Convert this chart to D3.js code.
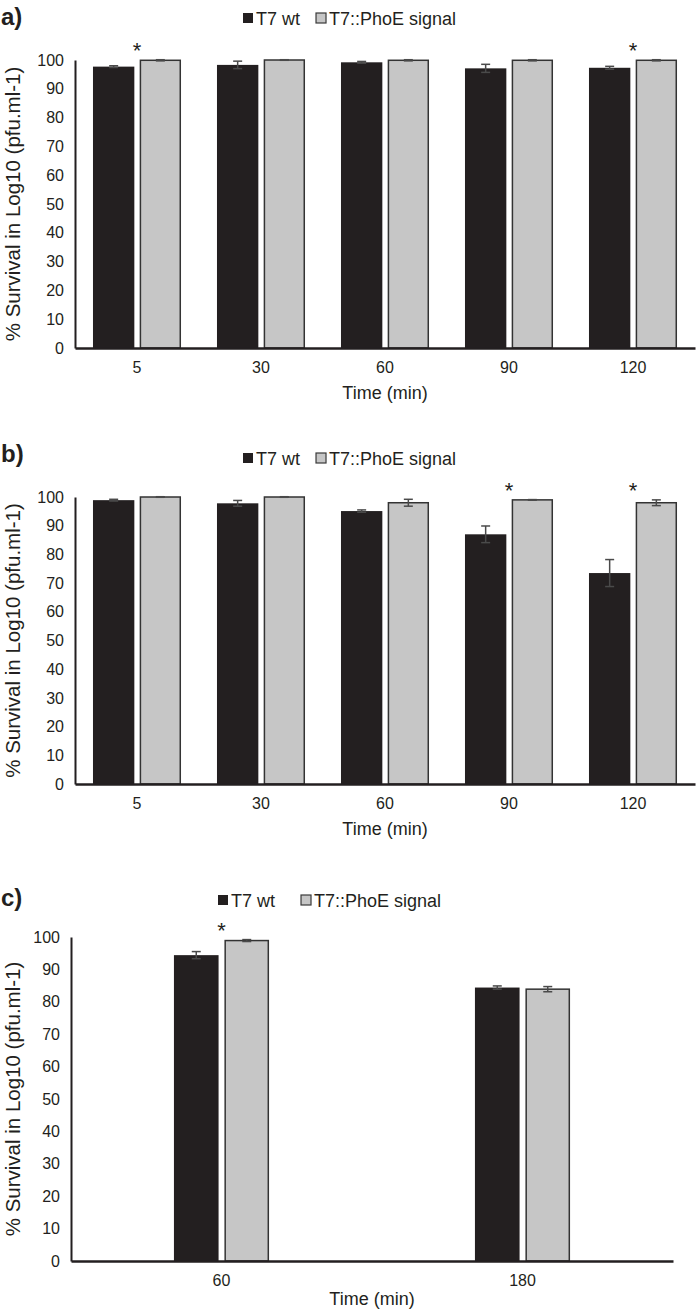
<!DOCTYPE html>
<html>
<head>
<meta charset="utf-8">
<script src="https://cdn.jsdelivr.net/npm/d3@7.9.0/dist/d3.min.js"></script>
<style>
  body { margin: 0; background: #fff; }
  svg { display: block; font-family: "Liberation Sans", Arial, sans-serif; }
</style>
</head>
<body>
<svg id="fig" width="697" height="1313"></svg>
<script>
// series names
const seriesNames = ['T7 wt', 'T7::PhoE signal'];
const yTicks = [0, 10, 20, 30, 40, 50, 60, 70, 80, 90, 100];

// panel a
const timesA = ['5', '30', '60', '90', '120'];
const wtA = [97.7, 98.3, 99.2, 97.1, 97.3];
const wtErrA = [0.3, 1.3, 0.3, 1.4, 0.5];
const phoA = [99.9, 100, 99.9, 99.9, 99.9];
const phoErrA = [0.2, 0.1, 0.2, 0.2, 0.2];
const starsA = ['5', '120'];

// panel b
const timesB = ['5', '30', '60', '90', '120'];
const wtB = [98.9, 97.8, 95.1, 87.0, 73.5];
const wtErrB = [0.3, 1.0, 0.4, 2.9, 4.7];
const phoB = [100, 100, 98.0, 99.0, 98.0];
const phoErrB = [0.1, 0.1, 1.2, 0.1, 1.0];
const starsB = ['90', '120'];

// panel c
const timesC = ['60', '180'];
const wtC = [94.4, 84.4];
const wtErrC = [1.1, 0.5];
const phoC = [98.9, 83.9];
const phoErrC = [0.3, 0.8];
const starsC = ['60'];

const colors = ['#231f20', '#c6c6c6'];
const svg = d3.select('#fig');

function drawPanel(opt) {
  const g = svg.append('g');
  const { left, right, top, bottom } = opt;

  const x = d3.scaleBand()
    .domain(opt.times)
    .range([left, right])
    .paddingInner(opt.pad)
    .paddingOuter(opt.pad / 2);
  const xs = d3.scaleBand()
    .domain([0, 1])
    .range([0, x.bandwidth()])
    .paddingInner(opt.innerPad);
  const y = d3.scaleLinear().domain([0, 100]).range([bottom, top]);

  // panel letter
  g.append('text')
    .attr('x', 1).attr('y', opt.letterY)
    .attr('font-size', 24).attr('font-weight', 'bold')
    .attr('fill', '#231f20')
    .text(opt.letter);

  // legend
  const leg = g.append('g').attr('transform', `translate(${opt.legendX}, ${opt.legendY})`);
  let lx = 0;
  seriesNames.forEach((name, i) => {
    leg.append('rect')
      .attr('x', lx).attr('y', -5).attr('width', 10).attr('height', 10)
      .attr('fill', colors[i])
      .attr('stroke', i ? '#3a3a3a' : 'none').attr('stroke-width', 1.2);
    const t = leg.append('text')
      .attr('x', lx + 13).attr('y', 6.5)
      .attr('font-size', 18).attr('fill', '#231f20')
      .text(name);
    lx += 13 + t.node().getComputedTextLength() + opt.legendGap;
  });

  const rows = opt.times.map((t, i) => ({
    t,
    vals: [
      { s: 0, v: opt.wt[i], e: opt.wtErr[i] },
      { s: 1, v: opt.pho[i], e: opt.phoErr[i] },
    ],
  }));

  const groups = g.selectAll('g.grp')
    .data(rows)
    .join('g')
    .attr('class', 'grp')
    .attr('transform', (d) => `translate(${x(d.t)},0)`);

  groups.selectAll('rect')
    .data((d) => d.vals)
    .join('rect')
    .attr('x', (d) => xs(d.s) + (d.s ? 0.75 : 0))
    .attr('y', (d) => y(d.v))
    .attr('width', (d) => xs.bandwidth() - (d.s ? 1.5 : 0))
    .attr('height', (d) => y(0) - y(d.v))
    .attr('fill', (d) => colors[d.s])
    .attr('stroke', (d) => (d.s ? '#333' : 'none'))
    .attr('stroke-width', 1.5);

  // error bars
  const eb = groups.selectAll('g.err')
    .data((d) => d.vals)
    .join('g')
    .attr('class', 'err')
    .attr('stroke', '#4a4a4a')
    .attr('stroke-width', 1.5);
  eb.append('line')
    .attr('x1', (d) => xs(d.s) + xs.bandwidth() / 2)
    .attr('x2', (d) => xs(d.s) + xs.bandwidth() / 2)
    .attr('y1', (d) => y(d.v + d.e))
    .attr('y2', (d) => y(d.v - d.e));
  [1, -1].forEach((sgn) => {
    eb.append('line')
      .attr('x1', (d) => xs(d.s) + xs.bandwidth() / 2 - 4.5)
      .attr('x2', (d) => xs(d.s) + xs.bandwidth() / 2 + 4.5)
      .attr('y1', (d) => y(d.v + sgn * d.e))
      .attr('y2', (d) => y(d.v + sgn * d.e));
  });

  // significance stars
  g.selectAll('text.star')
    .data(opt.stars)
    .join('text')
    .attr('class', 'star')
    .attr('x', (d) => x(d) + x.bandwidth() / 2)
    .attr('y', (d) => {
      const i = opt.times.indexOf(d);
      return y(Math.max(opt.wt[i] + opt.wtErr[i], opt.pho[i] + opt.phoErr[i])) - 2;
    })
    .attr('text-anchor', 'middle')
    .attr('font-size', 22)
    .attr('fill', '#231f20')
    .text('*');

  // y axis
  const yAxis = g.append('g')
    .attr('transform', `translate(${left},0)`)
    .call(d3.axisLeft(y).tickValues(yTicks).tickSize(0).tickPadding(opt.yPad));
  yAxis.select('.domain').attr('stroke', '#231f20').attr('stroke-width', 2);
  yAxis.selectAll('text').attr('font-size', 16).attr('fill', '#231f20')
    .attr('font-family', '"Liberation Sans", Arial, sans-serif');

  // x axis
  const xAxis = g.append('g')
    .attr('transform', `translate(0,${bottom})`)
    .call(d3.axisBottom(x).tickSize(0).tickPadding(opt.xPad));
  xAxis.select('.domain').attr('stroke', '#231f20').attr('stroke-width', 2.5);
  xAxis.selectAll('text').attr('font-size', 16).attr('fill', '#231f20')
    .attr('font-family', '"Liberation Sans", Arial, sans-serif');

  // axis titles
  g.append('text')
    .attr('x', (left + right) / 2).attr('y', bottom + opt.titleOff)
    .attr('text-anchor', 'middle')
    .attr('font-size', 18).attr('fill', '#231f20')
    .text('Time (min)');
  g.append('text')
    .attr('transform', `translate(20,${(top + bottom) / 2}) rotate(-90)`)
    .attr('text-anchor', 'middle')
    .attr('font-size', 20.5).attr('fill', '#231f20')
    .text('% Survival in Log10 (pfu.ml-1)');
}

drawPanel({
  letter: 'a)', letterY: 25, legendX: 243, legendY: 18, legendGap: 16,
  times: timesA, wt: wtA, wtErr: wtErrA, pho: phoA, phoErr: phoErrA, stars: starsA,
  left: 75, right: 695, top: 60, bottom: 348, pad: 0.29, innerPad: 0.114,
  yPad: 11, xPad: 14, titleOff: 51,
});

drawPanel({
  letter: 'b)', letterY: 462, legendX: 243, legendY: 458, legendGap: 16,
  times: timesB, wt: wtB, wtErr: wtErrB, pho: phoB, phoErr: phoErrB, stars: starsB,
  left: 75, right: 695, top: 497, bottom: 784, pad: 0.29, innerPad: 0.114,
  yPad: 11, xPad: 14, titleOff: 51,
});

drawPanel({
  letter: 'c)', letterY: 906, legendX: 218, legendY: 900, legendGap: 26,
  times: timesC, wt: wtC, wtErr: wtErrC, pho: phoC, phoErr: phoErrC, stars: starsC,
  left: 71, right: 673, top: 937, bottom: 1261, pad: 0.684, innerPad: 0.116,
  yPad: 11, xPad: 14, titleOff: 44,
});
</script>
</body>
</html>
